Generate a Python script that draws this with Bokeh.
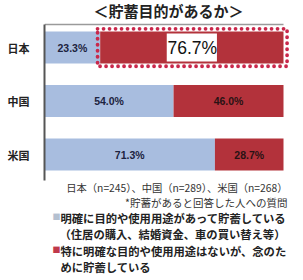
from bokeh.plotting import figure
from bokeh.models import Range1d, ColumnDataSource, Label, LabelSet, FixedTicker
from bokeh.core.properties import value
from bokeh.embed import file_html
from bokeh.resources import INLINE

countries = ["日本", "中国", "米国"]
purpose = [23.3, 54.0, 71.3]
no_purpose = [76.7, 46.0, 28.7]
title = "＜貯蓄目的があるか＞"
note1 = "日本（n=245）、中国（n=289）、米国（n=268）"
note2 = "*貯蓄があると回答した人への質問"
legend1 = ["明確に目的や使用用途があって貯蓄している", "（住居の購入、結婚資金、車の買い替え等）"]
legend2 = ["特に明確な目的や使用用途はないが、念のた", "めに貯蓄している"]

BLUE = "#a8bddf"
RED = "#b3323b"
DOT = "#c9284b"
CJK = "Noto Sans CJK JP"
LAT = "Liberation Sans"

W, H = 303, 280
FL = 44                # frame left in canvas px
PX_PER_CAT = 53.5      # vertical px per category step
MID_PX = 100.5         # canvas px of the middle category
PX_PER_PCT = 2.39      # horizontal px per percent

n = len(countries)
ypos = [n - 1 - i for i in range(n)]   # 日本 on top
mid = (n - 1) / 2

def ypx(px):
    return mid + (MID_PX - px) / PX_PER_CAT

p = figure(width=W, height=H, output_backend="svg", toolbar_location=None,
           x_range=Range1d(0, (W - FL) / PX_PER_PCT),
           y_range=Range1d(ypx(H), ypx(0)),
           x_axis_location=None,
           min_border_left=FL, min_border_right=0, min_border_top=0, min_border_bottom=0)
p.outline_line_color = None
p.xgrid.visible = False
p.ygrid.visible = False
ax = p.yaxis[0]
ax.ticker = FixedTicker(ticks=ypos)
ax.major_label_overrides = {y: c for y, c in zip(ypos, countries)}
ax.bounds = (ypx(180), ypx(24))
ax.axis_line_color = "#555555"
ax.axis_line_width = 2
ax.major_tick_line_color = None
ax.minor_tick_line_color = None
ax.major_label_text_font = CJK
ax.major_label_text_font_style = "bold"
ax.major_label_text_font_size = "11px"
ax.major_label_text_color = "#222222"
ax.major_label_standoff = 9

right2 = [a + b for a, b in zip(purpose, no_purpose)]
src = ColumnDataSource(dict(
    y=ypos, purpose=purpose, left2=purpose, right2=right2,
    c1=[a / 2 for a in purpose],
    t1=[f"{a:.1f}%" for a in purpose],
))
p.hbar(y="y", left=0, right="purpose", height=0.6, source=src, fill_color=BLUE, line_color=None)
p.hbar(y="y", left="left2", right="right2", height=0.6, source=src, fill_color=RED, line_color=None)

# top border line of the plot area
p.line(x=[0, 100], y=[ypx(24)] * 2, line_color="#9a9a9a", line_width=1.5)

# highlight for Japan's red segment
jp = ColumnDataSource(dict(y=[ypos[0]], x=[purpose[0] + no_purpose[0] / 2 + 0.2],
                           w=[no_purpose[0] + 2.6], t=[f"{no_purpose[0]:.1f}%"]))
p.rect(x="x", y="y", width="w", height=0.7, source=jp, fill_color=None,
       line_color=DOT, line_width=3.8, line_dash="0 6", line_cap="round")
p.rect(x=purpose[0] + no_purpose[0] / 2, y=ypos[0], width=21, height=0.52,
       fill_color="white", line_color=None)

p.add_layout(LabelSet(x="c1", y="y", text="t1", source=src, text_align="center",
                      text_baseline="middle", text_font=value(LAT), text_font_style="bold",
                      text_font_size="10.5px", text_color="#1c2340"))
src2 = ColumnDataSource(dict(y=ypos[1:],
                             c2=[a + b / 2 for a, b in zip(purpose[1:], no_purpose[1:])],
                             t2=[f"{b:.1f}%" for b in no_purpose[1:]]))
p.add_layout(LabelSet(x="c2", y="y", text="t2", source=src2, text_align="center",
                      text_baseline="middle", text_font=value(LAT), text_font_style="bold",
                      text_font_size="10.5px", text_color="#2a1214"))
p.add_layout(LabelSet(x="x", y="y", text="t", source=jp, text_align="center",
                      text_baseline="middle", text_font=value(LAT),
                      text_font_size="17.5px", text_color="#111111"))

def lab(text, x, ytop, size="10px", bold=False, align="left", color="#333333"):
    # screen units are relative to the frame's bottom-left corner
    p.add_layout(Label(x=x - FL, y=H - ytop, x_units="screen", y_units="screen", text=text,
                       text_align=align, text_baseline="middle", text_font=CJK,
                       text_font_size=size, text_font_style="bold" if bold else "normal",
                       text_color=color))

lab(title, 168, 10, size="15px", bold=True, align="center", color="#222222")
lab(note1, 287, 187, size="10.3px", align="right")
lab(note2, 287, 202, size="10.5px", align="right")
lab("■", 52, 216, size="8px", color="#b4c0d0")
lab(legend1[0], 60, 217, size="11.3px", bold=True, color="#222222")
lab(legend1[1], 59, 233, size="11.3px", bold=True, color="#222222")
lab("■", 52, 249, size="8px", color="#c0394b")
lab(legend2[0], 60, 250, size="11.3px", bold=True, color="#222222")
lab(legend2[1], 60, 266, size="11.3px", bold=True, color="#222222")

open("out.html", "w").write(file_html(p, INLINE))
